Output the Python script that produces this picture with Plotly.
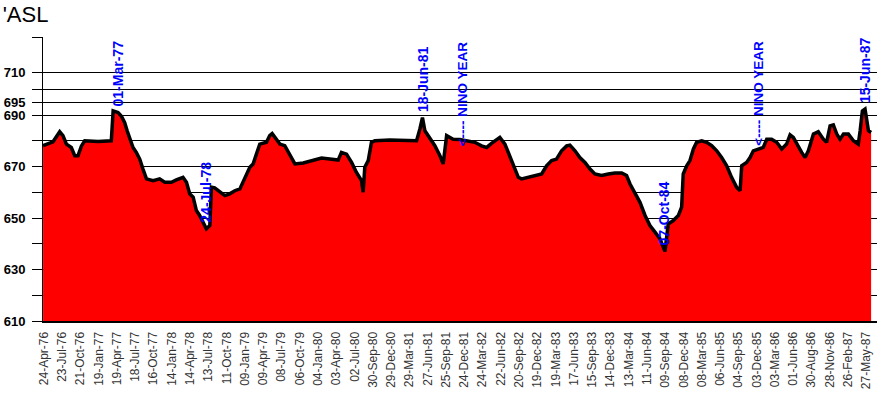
import pandas as pd
import plotly.graph_objects as go

# ---- data ----
start_date = "1976-04-24"          # first category label
label_step_days = 90               # one axis label every 90 days

# days after start_date
obs_day = [-4, 20, 45, 78, 94, 111, 135, 152, 168, 185, 201, 267, 332, 341, 365,
           382, 398, 410, 423, 439, 455, 472, 488, 505, 538, 570, 595, 628, 652,
           685, 702, 718, 735, 751, 767, 784, 800, 817, 825, 841, 866, 891, 915,
           940, 965, 981, 997, 1014, 1030, 1047, 1063, 1096, 1112, 1124, 1145,
           1162, 1186, 1211, 1236, 1277, 1326, 1367, 1408, 1449, 1465, 1490, 1515,
           1539, 1564, 1572, 1580, 1597, 1613, 1630, 1703, 1769, 1835, 1851, 1864,
           1876, 1900, 1925, 1950, 1966, 1983, 2015, 2048, 2089, 2122, 2155, 2180,
           2204, 2245, 2270, 2286, 2303, 2319, 2336, 2352, 2385, 2418, 2451, 2475,
           2500, 2524, 2549, 2574, 2590, 2615, 2639, 2664, 2689, 2713, 2746, 2779,
           2812, 2845, 2869, 2886, 2910, 2935, 2960, 2984, 3009, 3033, 3058, 3074,
           3099, 3124, 3140, 3148, 3165, 3181, 3198, 3214, 3239, 3263, 3288, 3313,
           3337, 3362, 3386, 3411, 3428, 3436, 3460, 3477, 3493, 3518, 3542, 3559,
           3583, 3608, 3633, 3657, 3674, 3690, 3707, 3731, 3748, 3764, 3789, 3813,
           3838, 3854, 3871, 3887, 3904, 3920, 3937, 3961, 3986, 4010, 4019, 4030,
           4043, 4060, 4073]

level_asl = [678.1, 679.0, 679.6, 683.5, 682.0, 678.7, 677.4, 674.2, 674.2, 678.0,
             680.0, 679.7, 680.0, 691.6, 691.0, 689.5, 687.0, 683.9, 680.6, 677.4,
             675.5, 672.9, 669.0, 665.2, 664.5, 665.2, 663.9, 663.9, 664.8, 665.8,
             663.9, 659.4, 658.1, 652.9, 651.0, 648.4, 645.8, 647.1, 662.0, 661.7,
             660.0, 658.7, 659.4, 660.6, 661.3, 663.9, 666.5, 669.7, 671.0, 674.8,
             678.7, 679.4, 682.0, 682.8, 680.6, 678.7, 678.1, 674.2, 671.0, 671.4,
             672.3, 673.3, 672.9, 672.5, 675.5, 674.8, 671.6, 667.7, 664.5, 660.0,
             669.7, 672.3, 679.4, 680.0, 680.3, 680.3, 680.0, 684.5, 689.0, 683.9,
             681.3, 678.1, 674.2, 671.0, 682.0, 680.6, 680.5, 680.0, 679.4, 678.0,
             677.4, 679.0, 681.3, 678.7, 675.5, 672.3, 669.0, 665.8, 665.2, 665.8,
             666.5, 667.1, 670.3, 672.3, 672.9, 676.1, 678.0, 678.3, 676.1, 673.5,
             671.6, 669.0, 667.1, 666.5, 667.1, 667.5, 667.5, 666.5, 663.2, 659.4,
             656.1, 651.0, 647.1, 644.5, 642.0, 637.0, 647.7, 649.0, 651.0, 654.2,
             667.1, 670.3, 672.3, 676.8, 679.4, 680.0, 679.4, 678.1, 676.1, 673.5,
             670.3, 665.8, 661.9, 660.6, 670.3, 671.6, 673.5, 676.1, 676.8, 677.4,
             680.6, 680.6, 679.4, 676.8, 678.7, 682.3, 681.3, 678.7, 675.5, 673.5,
             676.1, 682.6, 683.5, 680.6, 679.4, 685.8, 686.2, 682.6, 680.6, 682.6,
             682.6, 680.0, 678.7, 683.9, 691.6, 692.3, 683.9, 683.2]

# y axis ticks as drawn on the reference
y_tick_vals = [610, 620, 630, 640, 650, 660, 670, 680, 690, 695, 700, 706.7, 720]
y_tick_text = ["610", "", "630", "", "650", "", "670", "", "690", "695", "", "710", ""]

# annotations: (text, day near the marked point)
point_notes = [("01-Mar-77", 365), ("24-Jul-78", 800), ("18-Jun-81", 1864),
               ("07-Oct-84", 3058), ("15-Jun-87", 4043)]
nino_notes = [("<---- NINO YEAR", 2063), ("<---- NINO YEAR", 3517)]
nino_level = 677.2

# ---- figure ----
t0 = pd.Timestamp(start_date)
dates = [t0 + pd.Timedelta(days=d) for d in obs_day]

fig = go.Figure()
fig.add_trace(go.Scatter(
    x=dates, y=level_asl, mode="lines",
    line=dict(color="black", width=3.5),
    fill="tozeroy", fillcolor="#FF0000",
    hoverinfo="skip", showlegend=False))

ann_font = dict(family="Arial", size=14, color="#0000FF", weight="bold")
for text, day in point_notes:
    i = obs_day.index(day)
    fig.add_annotation(x=dates[i], y=level_asl[i], text=text, textangle=-90,
                       showarrow=False, xanchor="center", yanchor="bottom",
                       yshift=4, font=ann_font)
for text, day in nino_notes:
    fig.add_annotation(x=t0 + pd.Timedelta(days=day), y=nino_level, text=text,
                       textangle=-90, showarrow=False, xanchor="center",
                       yanchor="bottom", font=dict(ann_font, size=13.5))

fig.update_xaxes(
    type="date", automargin=False,
    range=[t0 - pd.Timedelta(days=4.3), t0 + pd.Timedelta(days=4102)],
    tick0=start_date, dtick=label_step_days * 86400000,
    tickformat="%d-%b-%y", tickangle=-90,
    tickfont=dict(family="Arial", size=12, color="#333333"),
    showgrid=False, zeroline=False,
    showline=True, linecolor="black", linewidth=2,
    ticks="", ticklabelstandoff=4)

fig.update_yaxes(
    automargin=False,
    range=[610, 720.3], tickvals=y_tick_vals, ticktext=y_tick_text,
    tickfont=dict(family="Arial", size=13, color="black", weight="bold"),
    ticks="outside", ticklen=10, tickcolor="black", tickwidth=1,
    showgrid=True, gridcolor="black", gridwidth=1, zeroline=False,
    showline=True, linecolor="black", linewidth=1, ticklabelstandoff=4)

fig.update_layout(
    width=877, height=393,
    margin=dict(l=43, r=0, t=37, b=72, pad=0, autoexpand=False),
    paper_bgcolor="white", plot_bgcolor="white",
    title=dict(text="'ASL", x=0.003, xanchor="left", xref="container",
               y=0.982, yanchor="top", yref="container", automargin=False,
               font=dict(family="Arial", size=22, color="black")),
    font=dict(family="Arial"))

fig.write_html("out.html",
               config={"displayModeBar": False},
               post_script="document.body.style.margin='0px';"
                           "document.body.style.overflow='hidden';")
